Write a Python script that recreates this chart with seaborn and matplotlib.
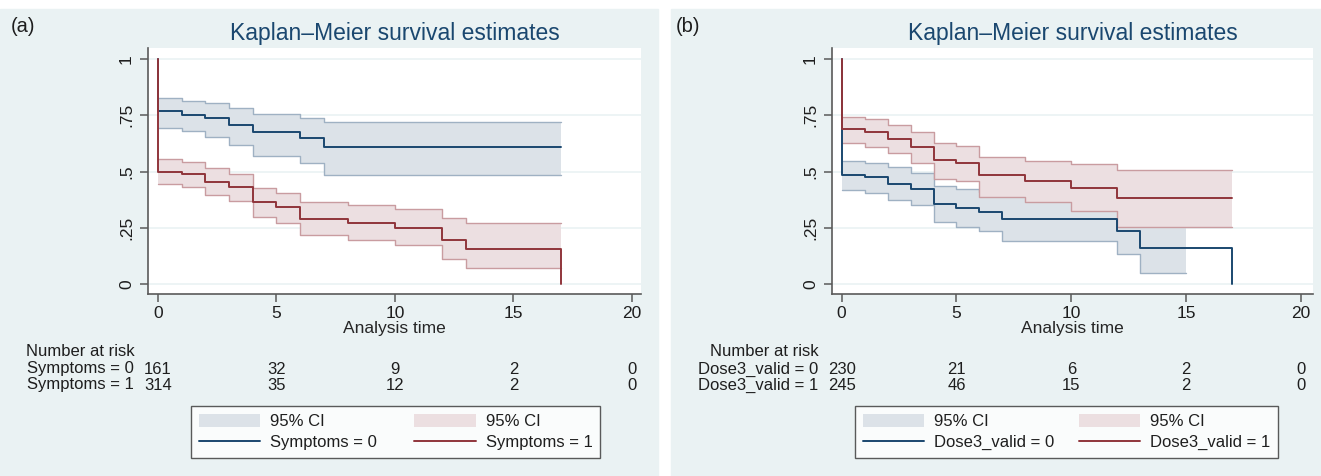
import numpy as np
import pandas as pd
import matplotlib
matplotlib.use("Agg")
import matplotlib.pyplot as plt
import seaborn as sns
from matplotlib.patches import Rectangle, Patch
from matplotlib.lines import Line2D
from matplotlib.transforms import blended_transform_factory

# --- data ---
# panel (a): Symptoms
a0_t = [0, 1, 2, 3, 4, 6, 7]
a0_s = [0.767, 0.751, 0.736, 0.707, 0.674, 0.647, 0.610]
a0_lo = [0.695, 0.681, 0.652, 0.616, 0.570, 0.536, 0.484]
a0_hi = [0.825, 0.815, 0.806, 0.781, 0.756, 0.736, 0.719]

a1_t = [0, 1, 2, 3, 4, 5, 6, 8, 10, 12, 13]
a1_s = [0.496, 0.487, 0.455, 0.430, 0.363, 0.341, 0.288, 0.273, 0.250, 0.196, 0.156]
a1_lo = [0.443, 0.433, 0.396, 0.369, 0.296, 0.273, 0.218, 0.196, 0.173, 0.111, 0.070]
a1_hi = [0.556, 0.544, 0.514, 0.489, 0.425, 0.406, 0.363, 0.351, 0.333, 0.292, 0.270]

# panel (b): Dose3_valid
b0_t = [0, 1, 2, 3, 4, 5, 6, 7, 12, 13]
b0_s = [0.484, 0.476, 0.443, 0.422, 0.354, 0.336, 0.321, 0.288, 0.237, 0.159]
b0_lo = [0.418, 0.406, 0.373, 0.351, 0.277, 0.252, 0.237, 0.192, 0.132, 0.050]
b0_hi = [0.548, 0.539, 0.519, 0.492, 0.437, 0.422, 0.410, 0.400, 0.330, 0.270]

b1_t = [0, 1, 2, 3, 4, 5, 6, 8, 10, 12]
b1_s = [0.687, 0.676, 0.646, 0.607, 0.551, 0.539, 0.483, 0.458, 0.428, 0.381]
b1_lo = [0.625, 0.610, 0.581, 0.536, 0.467, 0.458, 0.388, 0.366, 0.326, 0.255]
b1_hi = [0.744, 0.733, 0.707, 0.674, 0.625, 0.615, 0.566, 0.548, 0.532, 0.507]

risk_times = [0, 5, 10, 15, 20]
a_labels = ["Symptoms = 0", "Symptoms = 1"]
a_risk = [[161, 32, 9, 2, 0], [314, 35, 12, 2, 0]]
b_labels = ["Dose3_valid = 0", "Dose3_valid = 1"]
b_risk = [[230, 21, 6, 2, 0], [245, 46, 15, 2, 0]]

# --- style ---
W, H = 1321, 476
BG = "#eaf2f3"
NAVY = "#1a476f"
MAROON = "#90353b"
NAVY_FILL = "#dce2e8"
MAROON_FILL = "#ecdfe1"
NAVY_EDGE = "#9fb1c3"
MAROON_EDGE = "#c99ca0"
AXC = "#5a5a5a"

sns.set_theme(style="white")
plt.rcParams["font.family"] = ["Liberation Sans", "DejaVu Sans"]
plt.rcParams["text.color"] = "#1e1e1e"


def fx(px):
    return px / W


def fy(py):
    return 1 - py / H


def km_frame(groups):
    rows = []
    for name, t, s, end, drop in groups:
        tt = [0] + list(t) + [end]
        ss = [1.0] + list(s) + [s[-1]]
        if drop:
            tt.append(end)
            ss.append(0.0)
        for a, b in zip(tt, ss):
            rows.append((name, a, b))
    return pd.DataFrame(rows, columns=["group", "time", "surv"])


def draw_band(ax, t, lo, hi, end, fill, edge):
    tt = list(t) + [end]
    ll = list(lo) + [lo[-1]]
    hh = list(hi) + [hi[-1]]
    ax.fill_between(tt, ll, hh, step="post", color=fill, lw=0, zorder=2)
    ax.step(tt, ll, where="post", color=edge, lw=1.0, zorder=2)
    ax.step(tt, hh, where="post", color=edge, lw=1.0, zorder=2)


fig = plt.figure(figsize=(W / 100, H / 100), dpi=100)
fig.patch.set_facecolor("white")
fig.add_artist(Rectangle((0, 0), fx(658), fy(9), transform=fig.transFigure,
                         color=BG, zorder=0))
fig.add_artist(Rectangle((fx(671), 0), 1 - fx(671), fy(9), transform=fig.transFigure,
                         color=BG, zorder=0))

panels = [
    dict(rect=[fx(148), fy(294), fx(641) - fx(148), (294 - 48) / H], xlim=(-0.42, 20.38),
         bands=[(a0_t, a0_lo, a0_hi, 17), (a1_t, a1_lo, a1_hi, 17)],
         lines=[(a_labels[0], a0_t, a0_s, 17, False), (a_labels[1], a1_t, a1_s, 17, True)],
         labels=a_labels, risk=a_risk, tag="(a)", tag_x=11, leg=(191, 600)),
    dict(rect=[fx(832), fy(294), fx(1313) - fx(832), (294 - 48) / H], xlim=(-0.42, 20.52),
         bands=[(b0_t, b0_lo, b0_hi, 15), (b1_t, b1_lo, b1_hi, 17)],
         lines=[(b_labels[0], b0_t, b0_s, 17, True), (b_labels[1], b1_t, b1_s, 17, False)],
         labels=b_labels, risk=b_risk, tag="(b)", tag_x=676, leg=(855, 1278)),
]

for p in panels:
    ax = fig.add_axes(p["rect"])
    ax.set_facecolor("white")

    fills = [(NAVY_FILL, NAVY_EDGE), (MAROON_FILL, MAROON_EDGE)]
    for (t, lo, hi, end), (fc, ec) in zip(p["bands"], fills):
        draw_band(ax, t, lo, hi, end, fc, ec)

    df = km_frame(p["lines"])
    sns.lineplot(data=df, x="time", y="surv", hue="group", hue_order=p["labels"],
                 palette=[NAVY, MAROON], estimator=None, sort=False,
                 drawstyle="steps-post", lw=1.4, legend=False, ax=ax, zorder=3)

    ax.set_xlim(*p["xlim"])
    ax.set_ylim(-0.044, 1.049)
    ax.set_xticks(risk_times)
    ax.set_xticklabels([str(v) for v in risk_times], fontsize=12.5)
    ax.set_yticks([0, 0.25, 0.5, 0.75, 1])
    ax.set_yticklabels(["0", ".25", ".5", ".75", "1"], fontsize=12.5,
                       rotation=90, va="center")
    ax.yaxis.grid(True, color=BG, lw=1.2)
    ax.xaxis.grid(False)
    ax.set_axisbelow(True)
    for side in ["top", "right"]:
        ax.spines[side].set_visible(False)
    for side in ["left", "bottom"]:
        ax.spines[side].set_color(AXC)
        ax.spines[side].set_linewidth(1.2)
    ax.tick_params(bottom=True, left=True, direction="out", length=6, width=1.1,
                   color=AXC, pad=3, labelcolor="#1e1e1e")
    ax.tick_params(axis="y", pad=4)
    ax.set_ylabel("")
    ax.set_xlabel("Analysis time", fontsize=12.5)
    ax.xaxis.set_label_coords(0.5, (294 - 329) / 246)
    ax.xaxis.label.set_va("center")
    ax.set_title("Kaplan\u2013Meier survival estimates", fontsize=16.5, color=NAVY, pad=6)

    fig.text(fx(p["tag_x"]), fy(27), p["tag"], fontsize=14.5, ha="left", va="center")

    # number at risk table
    tr = blended_transform_factory(ax.transData, fig.transFigure)
    fig.text(-1.0, fy(351), "Number at risk", transform=tr, fontsize=12,
             ha="right", va="center")
    for row, (lab, counts) in enumerate(zip(p["labels"], p["risk"])):
        yy = fy(369 + 16 * row)
        fig.text(-1.0, yy, lab, transform=tr, fontsize=12, ha="right", va="center")
        for tv, n in zip(risk_times, counts):
            fig.text(tv, yy, str(n), transform=tr, fontsize=12, ha="center", va="center")

    handles = [Patch(facecolor=NAVY_FILL, edgecolor="none"),
               Line2D([], [], color=NAVY, lw=1.4),
               Patch(facecolor=MAROON_FILL, edgecolor="none"),
               Line2D([], [], color=MAROON, lw=1.4)]
    labs = ["95% CI", p["labels"][0], "95% CI", p["labels"][1]]
    x0, x1 = p["leg"]
    leg = fig.legend(handles, labs, ncol=2, loc="center",
                     bbox_to_anchor=(fx(x0), fy(459), fx(x1) - fx(x0), (459 - 405) / H),
                     mode="expand", frameon=True, fancybox=False, edgecolor="#333333",
                     fontsize=12, handlelength=3.7, handleheight=0.87,
                     borderpad=0.45, labelspacing=0.3, handletextpad=0.6,
                     borderaxespad=0)
    leg.get_frame().set_linewidth(1.0)
    leg.get_frame().set_facecolor("white")

fig.savefig("out.png", dpi=100)
